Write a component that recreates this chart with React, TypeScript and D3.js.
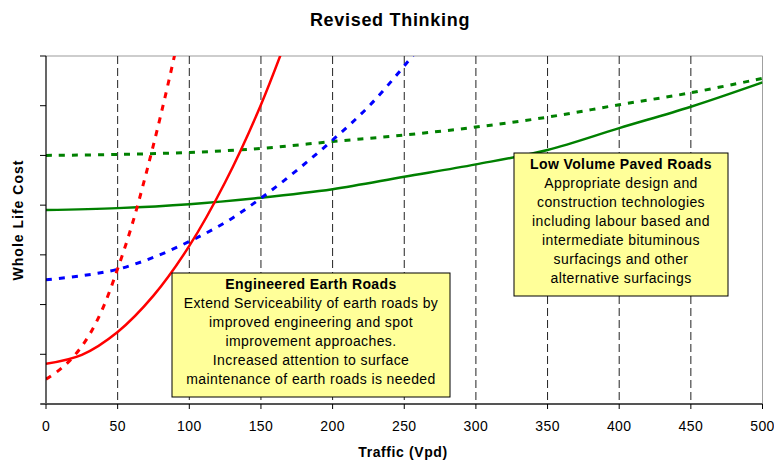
import * as d3 from 'd3'

// traffic (vpd) sample points and whole life cost readings (axis units, 0-7)
const earthX = [0, 25, 50, 75, 100, 125, 150, 175]
const earthSolid = [0.81, 0.99, 1.45, 2.18, 3.18, 4.46, 6.02, 7.9]

const earthDotX = [0, 10, 20, 30, 40, 50, 60, 70, 80, 90, 100]
const earthDotted = [0.5, 0.7, 0.98, 1.38, 1.95, 2.72, 3.6, 4.65, 5.8, 7.05, 8.4]

const blueX = [0, 25, 50, 75, 100, 125, 150, 175, 200, 225, 250, 275]
const blueDotted = [2.5, 2.58, 2.71, 2.95, 3.27, 3.65, 4.14, 4.7, 5.31, 5.98, 6.8, 7.7]

const pavedX = [0, 50, 100, 150, 200, 250, 300, 350, 400, 450, 500]
const pavedSolid = [3.9, 3.94, 4.02, 4.15, 4.32, 4.57, 4.82, 5.11, 5.55, 5.98, 6.47]
const pavedDotted = [5.0, 5.02, 5.06, 5.14, 5.28, 5.41, 5.57, 5.77, 6.02, 6.26, 6.55]

const xTicks = [0, 50, 100, 150, 200, 250, 300, 350, 400, 450, 500]
const yTicks = [0, 1, 2, 3, 4, 5, 6, 7]
const gridX = [50, 100, 150, 200, 250, 300, 350, 400, 450]

const earthBox = [
  'Engineered Earth Roads',
  'Extend Serviceability of earth roads by',
  'improved engineering and spot',
  'improvement approaches.',
  'Increased attention to surface',
  'maintenance of earth roads is needed',
]
const pavedBox = [
  'Low Volume Paved Roads',
  'Appropriate design and',
  'construction technologies',
  'including labour based and',
  'intermediate bituminous',
  'surfacings and other',
  'alternative surfacings',
]

const W = 774
const H = 461
const left = 46
const right = 762.5
const top = 56
const bottom = 404
const font = "Arial, 'Liberation Sans', sans-serif"

export default function App() {
  const x = d3.scaleLinear().domain([0, 500]).range([left, right])
  const y = d3.scaleLinear().domain([0, 7]).range([bottom, top])

  const line = (xs: number[], ys: number[]) =>
    d3.line<number>()
      .x((_, i) => x(xs[i]))
      .y(d => y(d))
      .curve(d3.curveCatmullRom)(ys) || ''

  const series = [
    { d: line(pavedX, pavedDotted), color: '#008000', dash: '6,7' },
    { d: line(pavedX, pavedSolid), color: '#008000', dash: null },
    { d: line(blueX, blueDotted), color: '#0000FF', dash: '6,7' },
    { d: line(earthDotX, earthDotted), color: '#FF0000', dash: '6,7' },
    { d: line(earthX, earthSolid), color: '#FF0000', dash: null },
  ]

  // text boxes
  const box = (lines: string[], bx: number, by: number, bw: number, bh: number, first: number) => (
    <g>
      <rect x={bx} y={by} width={bw} height={bh} fill="#FFFF99" stroke="#000" strokeWidth={1} />
      {lines.map((t, i) => (
        <text
          key={i}
          x={bx + bw / 2}
          y={first + i * 19}
          textAnchor="middle"
          fontSize={14}
          letterSpacing={0.4}
          fontWeight={i === 0 ? 'bold' : 'normal'}
          fill="#000"
        >
          {t}
        </text>
      ))}
    </g>
  )

  return (
    <svg width={W} height={H} style={{ position: 'absolute', left: 0, top: 0, fontFamily: font }}>
      <rect width={W} height={H} fill="#fff" />
      <defs>
        <clipPath id="plot">
          <rect x={left} y={top} width={right - left} height={bottom - top} />
        </clipPath>
      </defs>

      <text x={390} y={26} textAnchor="middle" fontSize={18} letterSpacing={0.7} fontWeight="bold">
        Revised Thinking
      </text>

      {/* plot frame */}
      <line x1={left} x2={right} y1={top} y2={top} stroke="#bdbdbd" strokeWidth={1.5} />
      <line x1={right} x2={right} y1={top} y2={bottom} stroke="#a0a0a0" strokeWidth={1} />

      {gridX.map(v => (
        <line key={v} x1={x(v)} x2={x(v)} y1={top} y2={bottom} stroke="#222" strokeWidth={1} strokeDasharray="8,4" />
      ))}

      <g clipPath="url(#plot)">
        {series.map((s, i) => (
          <path
            key={i}
            d={s.d}
            fill="none"
            stroke={s.color}
            strokeWidth={s.dash ? 3 : 2.5}
            strokeDasharray={s.dash || undefined}
          />
        ))}
      </g>

      {/* y axis */}
      <line x1={left} x2={left} y1={top} y2={bottom} stroke="#000" strokeWidth={1.2} />
      {yTicks.map(v => (
        <line key={v} x1={left - 6} x2={left} y1={y(v)} y2={y(v)} stroke="#000" strokeWidth={1} />
      ))}

      {/* x axis */}
      <line x1={left - 5} x2={right} y1={bottom} y2={bottom} stroke="#555" strokeWidth={2} />
      {xTicks.map(v => (
        <g key={v}>
          <line x1={x(v)} x2={x(v)} y1={bottom} y2={bottom + 5} stroke="#000" strokeWidth={1} />
          <text x={x(v)} y={431} textAnchor="middle" fontSize={14} letterSpacing={0.4} fill="#000">
            {v}
          </text>
        </g>
      ))}

      <text x={403} y={457} textAnchor="middle" fontSize={14} letterSpacing={0.6} fontWeight="bold">
        Traffic (Vpd)
      </text>
      <text
        transform="translate(23, 220) rotate(-90)"
        textAnchor="middle"
        fontSize={14}
        letterSpacing={1}
        fontWeight="bold"
      >
        Whole Life Cost
      </text>

      {box(earthBox, 172, 273, 278, 124, 289)}
      {box(pavedBox, 514, 153, 214, 143, 169)}
    </svg>
  )
}
